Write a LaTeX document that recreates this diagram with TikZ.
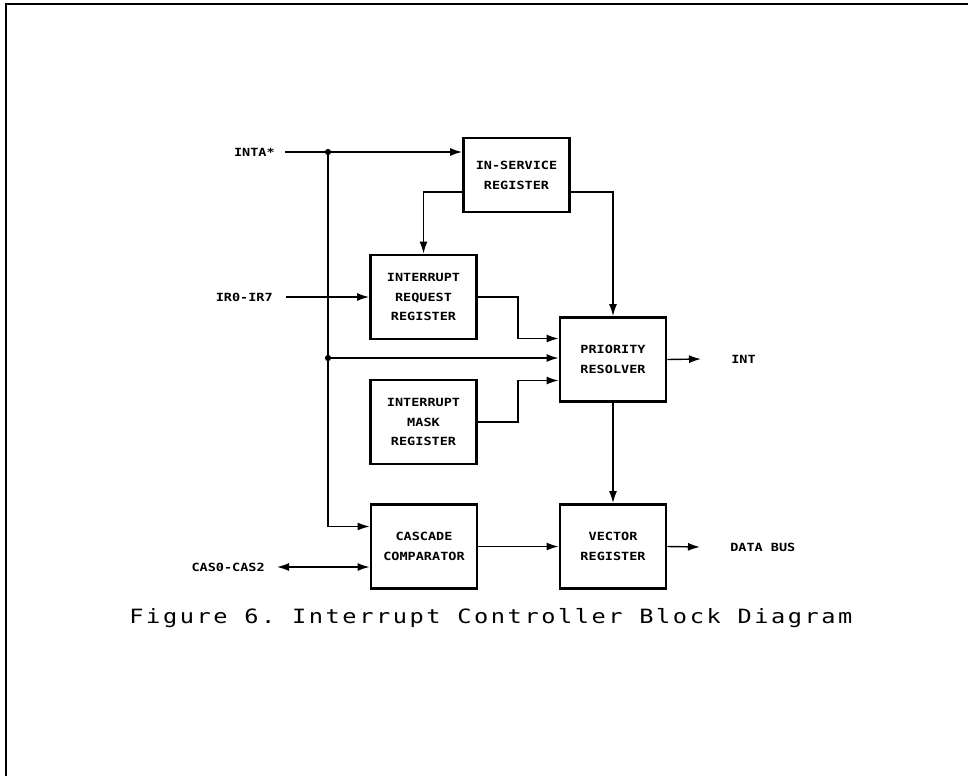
\documentclass[tikz,border=0pt]{standalone}
\usepackage{fontspec}
\usetikzlibrary{arrows.meta}
\newfontfamily\plotfont[FakeStretch=1.2]{DejaVu Sans Mono}
\newfontfamily\capfont[FakeStretch=1.2,LetterSpace=13]{DejaVu Sans Mono}
\tikzset{
  regbox/.style={draw, line width=2pt, minimum width=2.65cm, minimum height=2.1cm,
    align=center, inner sep=0pt, font=\plotfont\bfseries\fontsize{8}{14.2}\selectfont},
  lbl/.style={inner sep=0pt, font=\plotfont\bfseries\fontsize{8}{14.2}\selectfont},
  sig/.style={-{Latex[length=3mm,width=2mm]}, line width=1pt},
  both/.style={{Latex[length=3mm,width=2mm]}-{Latex[length=3mm,width=2mm]}, line width=1pt}
}
\begin{document}
\begin{tikzpicture}[x=0.025cm,y=-0.025cm]
		\useasboundingbox (0,0) rectangle (968,776);
		\draw[line width=2pt] (6,776) -- (6,4) -- (968,4);
		% registers
		\node[regbox, minimum height=1.85cm] (isr) at (516.5,175) {IN-SERVICE\\REGISTER};
		\node[regbox] (irr) at (423.5,297) {INTERRUPT\\REQUEST\\REGISTER};
		\node[regbox] (pr) at (613,359.5) {PRIORITY\\RESOLVER};
		\node[regbox] (imr) at (423.5,422) {INTERRUPT\\MASK\\REGISTER};
		\node[regbox] (cc) at (424,546.5) {CASCADE\\COMPARATOR};
		\node[regbox] (vr) at (613,546.5) {VECTOR\\REGISTER};
		% pins
		\node[lbl, anchor=east] (inta) at (275,152) {INTA*};
		\node[lbl, anchor=east] (irq) at (273,297) {IR0-IR7};
		\node[lbl, anchor=east] (cas) at (265,567) {CAS0-CAS2};
		\node[lbl, anchor=west] (int) at (731,359) {INT};
		\node[lbl, anchor=west] (dbus) at (730,547) {DATA BUS};
		\coordinate (j1) at (328,152);
		\coordinate (j2) at (328,358);
		% signals
		\draw[sig] ([xshift=0.25cm]inta.east) -- (inta -| isr.west);
		\draw[sig] (j1) |- ([yshift=0.5cm]cc.west);
		\draw[sig] (j2) -- (j2 -| pr.west);
		\fill (j1) circle[radius=2.2pt];
		\fill (j2) circle[radius=2.2pt];
		\draw[sig] ([xshift=0.325cm]irq.east) -- (irq -| irr.west);
		\draw[sig] ([yshift=-0.425cm]isr.west) -| (irr.north);
		\draw[sig] ([yshift=-0.425cm]isr.east) -| (pr.north);
		\draw[sig] (irr.east) -- ++(40,0) |- ([yshift=0.525cm]pr.west);
		\draw[sig] (imr.east) -- ++(40,0) |- ([yshift=-0.525cm]pr.west);
		\draw[sig] (pr.east) -- ([xshift=-0.75cm]int.west);
		\draw[sig] (pr.south) -- (vr.north);
		\draw[sig] (cc.east) -- (vr.west);
		\draw[sig] (vr.east) -- ([xshift=-0.75cm]dbus.west);
		\draw[both] ([xshift=0.3cm]cas.east) -- (cas -| cc.west);
		% caption
		\node[font=\capfont\fontsize{14}{16}\selectfont, inner sep=0pt] (cap) at (491,618)
		  {Figure 6.\ Interrupt Controller Block Diagram};
\end{tikzpicture}
\end{document}
